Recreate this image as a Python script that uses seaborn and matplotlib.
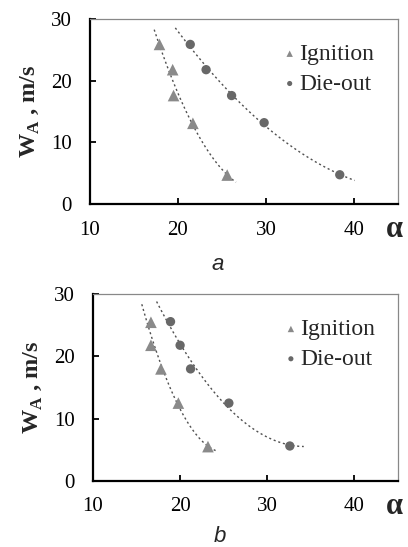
import numpy as np
import pandas as pd
import matplotlib
matplotlib.use('Agg')
import matplotlib.pyplot as plt
import seaborn as sns

# panel a
ign_a_x = [17.9, 19.4, 19.5, 21.7, 25.6]
ign_a_y = [25.9, 21.8, 17.6, 13.1, 4.7]
die_a_x = [21.4, 23.2, 26.1, 29.8, 38.4]
die_a_y = [25.9, 21.8, 17.6, 13.2, 4.75]
# panel b
ign_b_x = [16.65, 16.65, 17.8, 19.8, 23.2]
ign_b_y = [25.5, 21.8, 18.0, 12.5, 5.5]
die_b_x = [18.9, 20.0, 21.2, 25.6, 32.6]
die_b_y = [25.6, 21.8, 18.0, 12.5, 5.6]

# x-range covered by each trendline (fit extended past the points)
trend_a = {'Ignition': (17.3, 26.6), 'Die-out': (19.7, 40.1)}
trend_b = {'Ignition': (15.6, 24.1), 'Die-out': (17.3, 34.2)}

x_ticks = [10, 20, 30, 40]
y_ticks = [0, 10, 20, 30]

sns.set_style('ticks')
plt.rcParams['font.family'] = ['Liberation Serif', 'DejaVu Serif']
plt.rcParams['mathtext.fontset'] = 'custom'
plt.rcParams['mathtext.rm'] = 'Liberation Serif'

colors = {'Ignition': '#8a8a8a', 'Die-out': '#686868'}
markers = {'Ignition': '^', 'Die-out': 'o'}
sizes = {'Ignition': 70, 'Die-out': 45}


def make_df(ix, iy, dx, dy):
    return pd.DataFrame({
        'alpha': ix + dx,
        'W': iy + dy,
        'kind': ['Ignition'] * len(ix) + ['Die-out'] * len(dx),
    })


def trend_df(df, ranges):
    rows = []
    for kind, (lo, hi) in ranges.items():
        sub = df[df.kind == kind]
        coef = np.polyfit(sub.alpha, sub.W, 2)
        xs = np.linspace(lo, hi, 60)
        rows.append(pd.DataFrame({'alpha': xs, 'W': np.polyval(coef, xs), 'kind': kind}))
    return pd.concat(rows)


def draw_panel(ax, df, ranges, tag, tag_y):
    tr = trend_df(df, ranges)
    for kind in ['Ignition', 'Die-out']:
        sns.lineplot(data=tr[tr.kind == kind], x='alpha', y='W', ax=ax, color='#505050',
                     lw=1.0, linestyle=(0, (1.5, 2.0)), sort=False, legend=False)
    for kind in ['Ignition', 'Die-out']:
        sub = df[df.kind == kind]
        sns.scatterplot(data=sub, x='alpha', y='W', ax=ax, marker=markers[kind],
                        s=sizes[kind], color=colors[kind], edgecolor='none',
                        label=kind, zorder=3)
    ax.set_xlim(10, 45)
    ax.set_ylim(0, 30)
    ax.set_xticks(x_ticks)
    ax.set_yticks(y_ticks)
    ax.tick_params(direction='in', length=4, width=1.3, labelsize=15, colors='black',
                   top=False, right=False)
    ax.tick_params(axis='x', pad=12)
    ax.tick_params(axis='y', pad=13)
    for s in ['left', 'bottom']:
        ax.spines[s].set_color('black')
        ax.spines[s].set_linewidth(1.6)
    for s in ['top', 'right']:
        ax.spines[s].set_color('#888888')
        ax.spines[s].set_linewidth(0.9)
    ax.set_xlabel('')
    ax.set_ylabel(r'W$_\mathregular{A}$ , m/s', fontsize=17.5, fontweight='bold', labelpad=7)
    ax.legend(loc='upper left', bbox_to_anchor=(0.595, 0.92), frameon=False,
              fontsize=17, handlelength=0.6, handletextpad=0.1,
              labelspacing=0.35, borderaxespad=0, markerscale=0.55)
    ax.text(0.99, -0.14, 'α', transform=ax.transAxes, fontsize=22, fontweight='bold',
            ha='center', va='center')
    ax.text(0.415, tag_y, tag, transform=ax.transAxes, fontsize=16, style='italic',
            family=['Liberation Sans', 'DejaVu Sans'], ha='center', va='center')


fig = plt.figure(figsize=(4.08, 5.47), dpi=100)
ax1 = fig.add_axes([0.2206, 0.627, 0.7544, 0.338])
ax2 = fig.add_axes([0.228, 0.121, 0.747, 0.341])

draw_panel(ax1, make_df(ign_a_x, ign_a_y, die_a_x, die_a_y), trend_a, 'a', -0.325)
draw_panel(ax2, make_df(ign_b_x, ign_b_y, die_b_x, die_b_y), trend_b, 'b', -0.30)

fig.savefig('out.png', dpi=100)
